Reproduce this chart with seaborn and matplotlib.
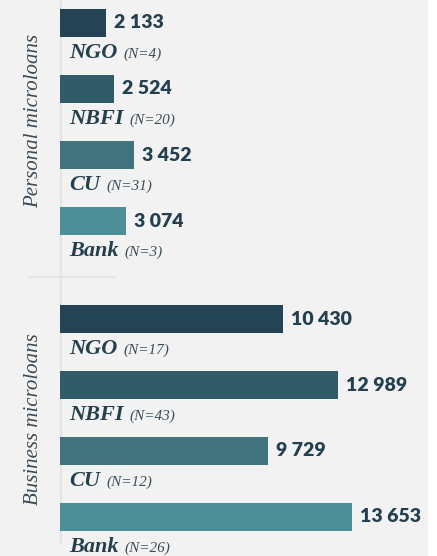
import matplotlib
matplotlib.use("Agg")
import matplotlib.pyplot as plt
import seaborn as sns
import pandas as pd
from matplotlib.lines import Line2D
from matplotlib.patches import Rectangle

# data
institutions = ["NGO", "NBFI", "CU", "Bank"]
personal_amounts = [2133, 2524, 3452, 3074]
personal_counts = [4, 20, 31, 3]
business_amounts = [10430, 12989, 9729, 13653]
business_counts = [17, 43, 12, 26]
group_titles = ["Personal microloans", "Business microloans"]
bar_colors = ["#244453", "#325b69", "#41737d", "#4d8e97"]

TEXT_DARK = "#24404f"
W, H = 437, 556

fig = plt.figure(figsize=(W / 100, H / 100), dpi=100, facecolor="white")
fig.add_artist(Rectangle((0, 0), 428 / W, 1, transform=fig.transFigure,
                         facecolor="#f2f2f2", edgecolor="none", zorder=-2))

# light guide lines
fig.add_artist(Line2D([61 / W, 61 / W], [1, 1 - 543 / H], transform=fig.transFigure,
                      color="#e4e4e4", lw=1.5, zorder=-1))
fig.add_artist(Line2D([29 / W, 114 / W], [1 - 277 / H, 1 - 277 / H], transform=fig.transFigure,
                      color="#e4e4e4", lw=1.5, zorder=-1))

ax_top = fig.add_axes([60 / W, 1 - 270 / H, 377 / W, 270 / H])
ax_bot = fig.add_axes([60 / W, 0, 377 / W, 276 / H])

panels = [
    (ax_top, personal_amounts, personal_counts, (3.742, -0.348), 121),
    (ax_bot, business_amounts, business_counts, (3.591, -0.591), 419),
]

for (ax, amounts, counts, ylim, title_y), title in zip(panels, group_titles):
    df = pd.DataFrame({"institution": institutions, "amount": amounts, "n": counts})
    sns.barplot(data=df, x="amount", y="institution", hue="institution",
                palette=bar_colors, legend=False, width=0.42, ax=ax, saturation=1)
    ax.set_xlim(0, 17633)
    ax.set_ylim(*ylim)
    ax.axis("off")

    for i, row in df.iterrows():
        ax.annotate(f"{row.amount:,}".replace(",", " "), xy=(row.amount, i),
                    xytext=(8, 0), textcoords="offset pixels", ha="left", va="center",
                    family="Lato", weight="heavy", size=14, color=TEXT_DARK)
        lab = ax.annotate(row.institution, xy=(0, i), xytext=(9, -35),
                          textcoords="offset pixels", ha="left", va="baseline",
                          family="Liberation Serif", style="italic", weight="bold",
                          size=16, color=TEXT_DARK, annotation_clip=False)
        ax.annotate(f"(N={row.n})", xy=(1, i), xycoords=(lab, "data"), xytext=(6, -35),
                    textcoords="offset pixels", ha="left", va="baseline",
                    family="Liberation Serif", style="italic", size=11,
                    color="#3a4d58", annotation_clip=False)

    fig.text(34 / W, 1 - title_y / H, title, rotation=90, ha="center", va="center",
             family="Liberation Serif", style="italic", size=15, color="#3a4a54")

fig.savefig("out.png", dpi=100, facecolor=fig.get_facecolor())
